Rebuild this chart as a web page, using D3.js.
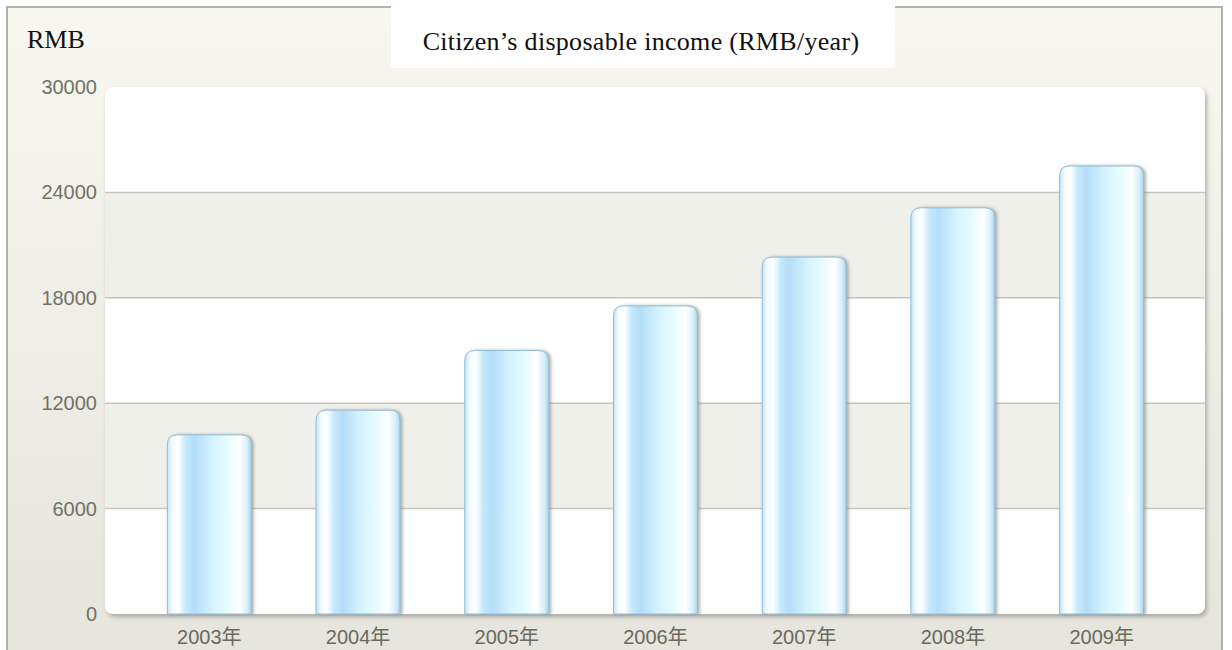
<!DOCTYPE html>
<html>
<head>
<meta charset="utf-8">
<script src="https://cdn.jsdelivr.net/npm/d3@7"></script>
<style>
  html, body { margin: 0; padding: 0; background: #ffffff; }
  svg { display: block; }
</style>
</head>
<body>
<svg id="chart" width="1232" height="650"></svg>
<script>
// Citizen's disposable income by year (RMB)
const years = ["2003年", "2004年", "2005年", "2006年", "2007年", "2008年", "2009年"];
const income = [10196, 11602, 14997, 17538, 20317, 23123, 25504];
const yTicks = [0, 6000, 12000, 18000, 24000, 30000];
const titleText = "Citizen\u2019s disposable income (RMB/year)";
const unitText = "RMB";

const svg = d3.select("#chart");
const defs = svg.append("defs");

// Panel background gradient
const bg = defs.append("linearGradient").attr("id", "bgGrad")
  .attr("x1", 0).attr("y1", 0).attr("x2", 0).attr("y2", 1);
bg.append("stop").attr("offset", "0%").attr("stop-color", "#f8f8f0");
bg.append("stop").attr("offset", "100%").attr("stop-color", "#e4e4dc");

// Glassy cylinder fill for the bars
const barGrad = defs.append("linearGradient").attr("id", "barGrad")
  .attr("x1", 0).attr("y1", 0).attr("x2", 1).attr("y2", 0);
[
  ["0%", "#c4e4f6"], ["6%", "#f4fbff"], ["13%", "#ffffff"], ["22%", "#c6e8fa"],
  ["32%", "#b4defa"], ["55%", "#d6f4fe"], ["72%", "#e6fcff"], ["86%", "#ffffff"],
  ["95%", "#d6eef8"], ["100%", "#a8d2ea"]
].forEach(([o, c]) => barGrad.append("stop").attr("offset", o).attr("stop-color", c));

const shadow = defs.append("filter").attr("id", "plotShadow")
  .attr("x", "-5%").attr("y", "-5%").attr("width", "110%").attr("height", "110%");
shadow.append("feDropShadow").attr("dx", 2).attr("dy", 3).attr("stdDeviation", 2)
  .attr("flood-color", "#7a7a70").attr("flood-opacity", 0.55);

const barShadow = defs.append("filter").attr("id", "barShadow")
  .attr("x", "-20%").attr("y", "-5%").attr("width", "140%").attr("height", "110%");
barShadow.append("feDropShadow").attr("dx", 2).attr("dy", 0).attr("stdDeviation", 1.5)
  .attr("flood-color", "#6e7a80").attr("flood-opacity", 0.55);

// Outer panel
svg.append("rect")
  .attr("x", 7).attr("y", 7).attr("width", 1215).attr("height", 680)
  .attr("fill", "url(#bgGrad)")
  .attr("stroke", "#b2b2aa").attr("stroke-width", 2);

// Scales
const plot = { left: 105, right: 1205, top: 87, bottom: 614 };
const y = d3.scaleLinear().domain([0, 30000]).range([plot.bottom, plot.top]);
const x = d3.scaleBand().domain(years).range([135, 1176])
  .paddingInner(0.435).paddingOuter(0.2175);

// Plot area
svg.append("rect")
  .attr("x", plot.left).attr("y", plot.top)
  .attr("width", plot.right - plot.left).attr("height", plot.bottom - plot.top)
  .attr("rx", 8).attr("ry", 8)
  .attr("fill", "#ffffff")
  .attr("filter", "url(#plotShadow)");

// Alternating bands
const bands = d3.pairs(yTicks);
svg.append("g").selectAll("rect").data(bands).join("rect")
  .attr("x", plot.left).attr("width", plot.right - plot.left)
  .attr("y", d => y(d[1])).attr("height", d => y(d[0]) - y(d[1]))
  .attr("fill", (d, i) => i % 2 === 1 ? "#f0f0ea" : "none");

// Grid lines
svg.append("g").selectAll("line").data(yTicks.filter(t => t > 0 && t < 30000)).join("line")
  .attr("x1", plot.left).attr("x2", plot.right)
  .attr("y1", d => y(d)).attr("y2", d => y(d))
  .attr("stroke", "#c6c6bc").attr("stroke-width", 1.5);

// Y axis labels
const yAxis = d3.axisLeft(y).tickValues(yTicks).tickSize(0).tickPadding(0)
  .tickFormat(d3.format("d"));
const yg = svg.append("g").attr("transform", "translate(97,0)").call(yAxis);
yg.select(".domain").remove();
yg.selectAll("text")
  .attr("fill", "#727266")
  .attr("font-family", "'Liberation Sans', Arial, sans-serif")
  .attr("font-size", 20);

// Bars with rounded tops
const r = 10;
function barPath(d, i) {
  const x0 = x(years[i]), w = x.bandwidth();
  const top = y(d), bot = y(0);
  const rr = Math.min(r, (bot - top) / 2);
  return `M${x0},${bot} V${top + rr} Q${x0},${top} ${x0 + rr},${top} H${x0 + w - rr} Q${x0 + w},${top} ${x0 + w},${top + rr} V${bot} Z`;
}
svg.append("g").selectAll("path").data(income).join("path")
  .attr("d", barPath)
  .attr("fill", "url(#barGrad)")
  .attr("stroke", "#94bcd6").attr("stroke-width", 1)
  .attr("filter", "url(#barShadow)");

// X axis labels
const xAxis = d3.axisBottom(x).tickSize(0).tickPadding(0);
const xg = svg.append("g").attr("transform", `translate(0,${plot.bottom + 30})`).call(xAxis);
xg.select(".domain").remove();
xg.selectAll("text")
  .attr("dy", 0)
  .attr("fill", "#6a6a5e")
  .attr("font-family", "'Liberation Sans', Arial, 'Noto Sans CJK SC', sans-serif")
  .attr("font-size", 20);

// Title box
svg.append("rect").attr("x", 391).attr("y", 0).attr("width", 504).attr("height", 68)
  .attr("fill", "#ffffff");
svg.append("text")
  .attr("x", 641).attr("y", 50)
  .attr("text-anchor", "middle")
  .attr("font-family", "'Liberation Serif', 'Times New Roman', serif")
  .attr("font-size", 26)
  .attr("letter-spacing", 0.3)
  .attr("fill", "#111111")
  .text(titleText);

// Unit label
svg.append("text")
  .attr("x", 27).attr("y", 48)
  .attr("font-family", "'Liberation Serif', 'Times New Roman', serif")
  .attr("font-size", 26)
  .attr("fill", "#111111")
  .text(unitText);
</script>
</body>
</html>
